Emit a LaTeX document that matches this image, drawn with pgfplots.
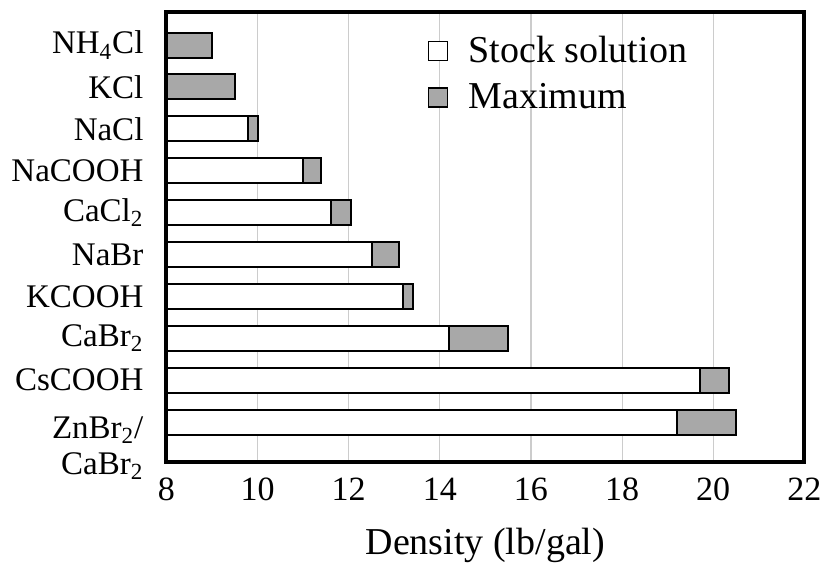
\documentclass[border={2.4pt 2pt 0pt 5pt}]{standalone}
\usepackage{fontspec}
\setmainfont{Liberation Serif}
\usepackage{pgfplots}
\pgfplotsset{compat=1.18}
\definecolor{maxgray}{gray}{0.66}
\begin{document}
\begin{tikzpicture}
\begin{axis}[
  name=ax,
  width=319pt, height=225pt, scale only axis,
  xbar stacked, bar width=12.5pt,
  xmin=8, xmax=22, ymin=-0.95, ymax=9.79,
  xtick={8,10,...,22}, ytick={0,...,9},
  yticklabels={{\raisebox{-13.5pt}[\height][\depth]{\begin{tabular}{@{}r@{}}ZnBr\textsubscript{2}/\\CaBr\textsubscript{2}\end{tabular}}},
    CsCOOH, CaBr\textsubscript{2}, KCOOH, NaBr, CaCl\textsubscript{2}, NaCOOH, NaCl, KCl, NH\textsubscript{4}Cl},
  major tick length=0pt,
  xmajorgrids, grid style={gray!40, line width=0.6pt},
  axis line style={line width=2pt},
  /pgf/number format/assume math mode=true,
  yticklabel style={font=\fontsize{16.5}{18}\selectfont, xshift=-8pt},
  xticklabel style={font=\fontsize{17}{19}\selectfont, yshift=-4.5pt},
  xlabel={Density (lb/gal)},
  xlabel style={font=\fontsize{19}{22}\selectfont, inner sep=1pt, yshift=-9pt},
  legend style={at={(0.40,0.965)}, anchor=north west, draw=none, fill=none,
    font=\fontsize{19}{22}\selectfont, row sep=5pt,
    legend cell align=left},
  legend image code/.code={\draw[#1, line width=0.6pt] (0pt,-4.75pt) rectangle (9.5pt,4.75pt); \path[draw=none,fill=none] (0pt,0pt) -- (18pt,0pt);},
]
\addplot[draw=black, line width=1pt, fill=white] coordinates {
  (19.2,0) (19.7,1) (14.2,2) (13.2,3) (12.5,4) (11.6,5) (11.0,6) (9.8,7) (8,8) (8,9)};
\addplot[draw=black, line width=1pt, fill=maxgray] coordinates {
  (1.3,0) (0.65,1) (1.3,2) (0.2,3) (0.6,4) (0.45,5) (0.4,6) (0.2,7) (1.5,8) (1.0,9)};
\legend{Stock solution, Maximum}
\end{axis}
\draw[line width=2pt] (ax.south west) rectangle (ax.north east);
\end{tikzpicture}
\end{document}
